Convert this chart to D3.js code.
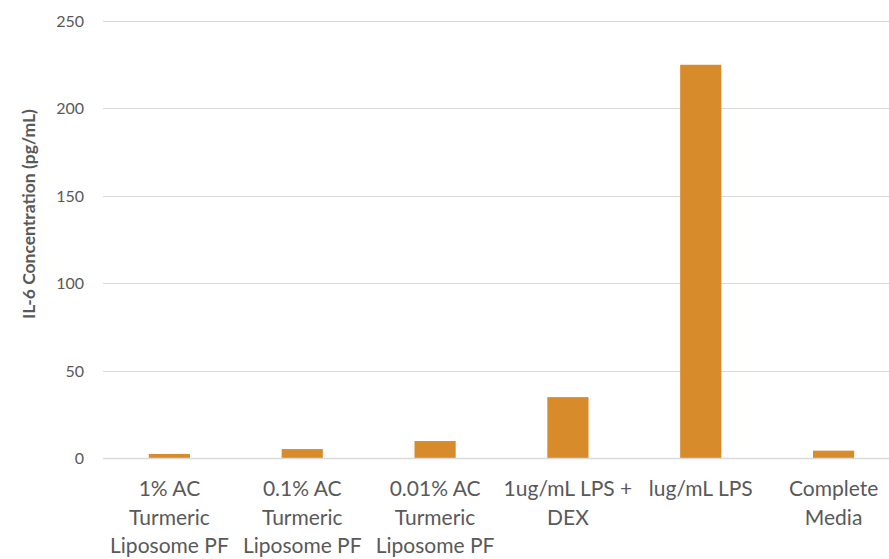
<!DOCTYPE html>
<html>
<head>
<meta charset="utf-8">
<script src="https://cdn.jsdelivr.net/npm/d3@7"></script>
<style>
  html, body { margin: 0; padding: 0; background: #fff; }
  svg { display: block; overflow: hidden; }
</style>
</head>
<body>
<svg id="chart" width="889" height="559"></svg>
<script>
const categories = [
  ["1% AC", "Turmeric", "Liposome PF"],
  ["0.1% AC", "Turmeric", "Liposome PF"],
  ["0.01% AC", "Turmeric", "Liposome PF"],
  ["1ug/mL LPS +", "DEX"],
  ["lug/mL LPS"],
  ["Complete", "Media"]
];
const values = [2.3, 5.1, 9.7, 34.8, 224.7, 4.2];
const yTicks = [0, 50, 100, 150, 200, 250];
const yTitle = "IL-6 Concentration (pg/mL)";

const svg = d3.select("#chart");
const FONT = "Lato, 'Open Sans', sans-serif";

const x = d3.scaleBand()
  .domain(d3.range(categories.length))
  .range([103, 900])
  .paddingInner(0.69)
  .paddingOuter(0.345);

const y = d3.scaleLinear().domain([0, 250]).range([458, 20.5]);

// gridlines
svg.append("g").selectAll("line")
  .data(yTicks.filter(d => d !== 0))
  .join("line")
  .attr("x1", 103).attr("x2", 900)
  .attr("y1", d => Math.round(y(d)) + 0.5).attr("y2", d => Math.round(y(d)) + 0.5)
  .attr("stroke", "#d9d9d9").attr("stroke-width", 1);

// y axis tick labels
const yAxis = d3.axisLeft(y).tickValues(yTicks).tickSize(0).tickPadding(0);
const gy = svg.append("g").attr("transform", "translate(84,0)").call(yAxis);
gy.select(".domain").remove();
gy.selectAll("text")
  .attr("font-family", FONT).attr("font-size", 16).attr("fill", "#595959")
  .attr("dy", "0.35em");

// bars
svg.append("g").selectAll("rect")
  .data(values)
  .join("rect")
  .attr("x", (d, i) => x(i))
  .attr("width", x.bandwidth())
  .attr("y", d => y(d))
  .attr("height", d => y(0) - y(d))
  .attr("fill", "#d88b2a");

// baseline axis
svg.append("line")
  .attr("x1", 103).attr("x2", 900)
  .attr("y1", Math.round(y(0)) + 0.5).attr("y2", Math.round(y(0)) + 0.5)
  .attr("stroke", "#d9d9d9").attr("stroke-width", 1.5);

// category labels
const gx = svg.append("g");
categories.forEach((lines, i) => {
  const cx = x(i) + x.bandwidth() / 2;
  const t = gx.append("text")
    .attr("text-anchor", "middle")
    .attr("font-family", FONT).attr("font-size", 21).attr("fill", "#595959");
  lines.forEach((ln, j) => {
    t.append("tspan").attr("x", cx).attr("y", 496 + j * 28.7).text(ln);
  });
});

// y title
svg.append("text")
  .attr("transform", "translate(35,214) rotate(-90)")
  .attr("text-anchor", "middle")
  .attr("font-family", FONT).attr("font-size", 17.5).attr("font-weight", "bold")
  .attr("fill", "#595959")
  .text(yTitle);
</script>
</body>
</html>
